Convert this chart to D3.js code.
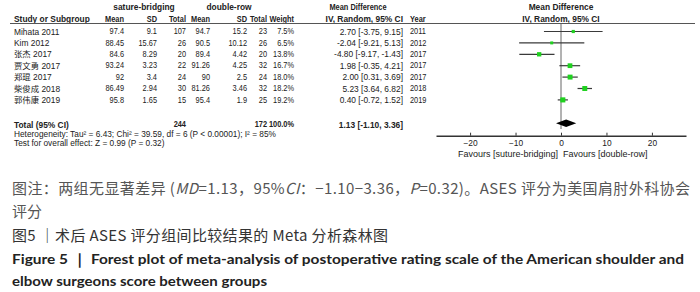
<!DOCTYPE html>
<html>
<head>
<meta charset="utf-8">
<script src="https://cdn.jsdelivr.net/npm/d3@7"></script>
<style>
  body { margin: 0; background: #fff; }
  svg { display: block; }
  .t { font-family: "Liberation Sans", Arial, "Noto Sans CJK SC", sans-serif; fill: #222; }
</style>
</head>
<body>
<svg id="chart" width="700" height="292"></svg>
<script>
// ---- data ----
const studies = ["Mihata 2011", "Kim 2012", "张杰 2017", "贾文勇 2017", "郑琨 2017", "柴俊成 2018", "郭伟康 2019"];
const sbMean = [97.4, 88.45, 84.6, 93.24, 92, 86.49, 95.8];
const sbSD   = [9.1, 15.67, 8.29, 3.23, 3.4, 2.94, 1.65];
const sbN    = [107, 26, 20, 22, 24, 30, 15];
const drMean = [94.7, 90.5, 89.4, 91.26, 90, 81.26, 95.4];
const drSD   = [15.2, 10.12, 4.42, 4.25, 2.5, 3.46, 1.9];
const drN    = [23, 26, 20, 32, 24, 32, 25];
const weights = [7.5, 6.5, 13.8, 16.7, 18.0, 18.2, 19.2];
const md     = [2.70, -2.04, -4.80, 1.98, 2.00, 5.23, 0.40];
const ciLow  = [-3.75, -9.21, -9.17, -0.35, 0.31, 3.64, -0.72];
const ciHigh = [9.15, 5.13, -1.43, 4.21, 3.69, 6.82, 1.52];
const years  = [2011, 2012, 2017, 2017, 2017, 2018, 2019];
const totalSbN = 244, totalDrN = 172, totalWeight = 100.0;
const totalMD = 1.13, totalLow = -1.10, totalHigh = 3.36;
const tickValues = [-20, -10, 0, 10, 20];
const heterogeneity = "Heterogeneity: Tau² = 6.43; Chi² = 39.59, df = 6 (P < 0.00001); I² = 85%";
const overallTest = "Test for overall effect: Z = 0.99 (P = 0.32)";
const favLeft = "Favours [suture-bridging]", favRight = "Favours [double-row]";

// ---- drawing ----
const svg = d3.select("#chart");
const fs = 8.4;     // table font size
const sx = 0.88;    // horizontal condensation of numeric columns

const y = d3.scalePoint().domain(d3.range(studies.length)).range([31.5, 99.9]);
const x = d3.scaleLinear().domain([-27.5, 27.5]).range([436, 686]);
const sq = d3.scaleSqrt().domain([0, 20]).range([0, 5.2]);

const tg = svg.append("g").attr("transform", `scale(${sx},1)`);

function txt(xp, yp, s, anchor, opts) {
  opts = opts || {};
  const cond = opts.cond ? sx : 1;
  const parent = opts.cond ? tg : svg;
  return parent.append("text").attr("class", "t")
    .attr("x", xp / cond).attr("y", yp)
    .attr("dominant-baseline", "central")
    .attr("text-anchor", anchor || "start")
    .attr("font-size", opts.size || fs)
    .attr("font-weight", opts.bold ? "bold" : "normal")
    .text(s);
}

// headers
txt(144, 7, "sature-bridging", "middle", {bold: true});
txt(229, 7, "double-row", "middle", {bold: true});
txt(358, 7, "Mean Difference", "middle", {bold: true, cond: true});
txt(561, 7, "Mean Difference", "middle", {bold: true});
txt(14, 19, "Study or Subgroup", "start", {bold: true});
txt(124, 19, "Mean", "end", {bold: true, cond: true});
txt(157, 19, "SD", "end", {bold: true, cond: true});
txt(186, 19, "Total", "end", {bold: true, cond: true});
txt(210, 19, "Mean", "end", {bold: true, cond: true});
txt(247, 19, "SD", "end", {bold: true, cond: true});
txt(267, 19, "Total", "end", {bold: true, cond: true});
txt(294, 19, "Weight", "end", {bold: true, cond: true});
txt(403, 19, "IV, Random, 95% CI", "end", {bold: true});
txt(410, 19, "Year", "start", {bold: true, cond: true});
txt(561, 19, "IV, Random, 95% CI", "middle", {bold: true});

svg.append("line").attr("x1", 10).attr("x2", 695).attr("y1", 23.5).attr("y2", 23.5)
  .attr("stroke", "#555").attr("stroke-width", 1);

// rows
const f2 = v => v.toFixed(2);
studies.forEach((s, i) => {
  const yy = y(i);
  txt(14, yy, s);
  txt(124, yy, String(sbMean[i]), "end", {cond: true});
  txt(157, yy, String(sbSD[i]), "end", {cond: true});
  txt(186, yy, String(sbN[i]), "end", {cond: true});
  txt(210, yy, String(drMean[i]), "end", {cond: true});
  txt(247, yy, String(drSD[i]), "end", {cond: true});
  txt(267, yy, String(drN[i]), "end", {cond: true});
  txt(294, yy, weights[i].toFixed(1) + "%", "end", {cond: true});
  txt(403, yy, `${f2(md[i])} [${f2(ciLow[i])}, ${f2(ciHigh[i])}]`, "end");
  txt(410, yy, String(years[i]), "start", {cond: true});
});

// totals
const yT = 124.5;
txt(14, yT, "Total (95% CI)", "start", {bold: true});
txt(186, yT, String(totalSbN), "end", {bold: true, cond: true});
txt(267, yT, String(totalDrN), "end", {bold: true, cond: true});
txt(294, yT, totalWeight.toFixed(1) + "%", "end", {bold: true, cond: true});
txt(403, yT, `${f2(totalMD)} [${f2(totalLow)}, ${f2(totalHigh)}]`, "end", {bold: true});
txt(14, 134, heterogeneity, "start", {size: 8.3});
txt(14, 142.5, overallTest, "start", {size: 8.3});

// zero line
svg.append("line").attr("x1", x(0)).attr("x2", x(0)).attr("y1", 23.5).attr("y2", 129)
  .attr("stroke", "#666").attr("stroke-width", 1);

// CI lines and squares
studies.forEach((s, i) => {
  const yy = y(i);
  svg.append("line").attr("x1", x(ciLow[i])).attr("x2", x(ciHigh[i]))
    .attr("y1", yy).attr("y2", yy).attr("stroke", "#3a3a3a").attr("stroke-width", 1.2);
  const h = sq(weights[i]);
  svg.append("rect").attr("x", x(md[i]) - h / 2).attr("y", yy - h / 2)
    .attr("width", h).attr("height", h).attr("fill", "#1fd11f");
});

// diamond
const yD = 123.3;
svg.append("path")
  .attr("d", `M${x(totalLow)},${yD} L${x(totalMD)},${yD - 3.8} L${x(totalHigh)},${yD} L${x(totalMD)},${yD + 3.8} Z`)
  .attr("fill", "#000");

// axis
const axis = d3.axisBottom(x).tickValues(tickValues).tickSizeInner(-3).tickSizeOuter(0).tickPadding(4);
const ag = svg.append("g").attr("transform", "translate(0,135.7)").call(axis);
ag.select(".domain").attr("stroke", "#333").attr("stroke-width", 1.5);
ag.selectAll(".tick line").attr("stroke", "#333");
ag.selectAll(".tick text").attr("class", "t").attr("font-size", 8.4)
  .attr("font-family", "Liberation Sans, Arial, sans-serif").attr("fill", "#222");

txt(x(0) - 3, 154, favLeft, "end", {size: 9});
txt(x(0) + 2, 154, favRight, "start", {size: 9});

// captions
const cjk = '"Noto Sans CJK SC", sans-serif';
const c1 = svg.append("text").attr("x", 12).attr("y", 187).attr("dominant-baseline", "central")
  .attr("font-family", cjk).attr("font-size", 15).attr("fill", "#555")
  .attr("textLength", 678).attr("lengthAdjust", "spacing");
c1.append("tspan").text("图注：两组无显著差异 (");
c1.append("tspan").attr("font-style", "italic").text("MD");
c1.append("tspan").text("=1.13，95%");
c1.append("tspan").attr("font-style", "italic").text("CI");
c1.append("tspan").text("：−1.10−3.36，");
c1.append("tspan").attr("font-style", "italic").text("P");
c1.append("tspan").text("=0.32)。ASES 评分为美国肩肘外科协会");

svg.append("text").attr("x", 12).attr("y", 210).attr("dominant-baseline", "central")
  .attr("font-family", cjk).attr("font-size", 15).attr("fill", "#555").text("评分");

svg.append("text").attr("x", 12).attr("y", 234).attr("dominant-baseline", "central")
  .attr("font-family", cjk).attr("font-size", 15).attr("fill", "#333")
  .attr("textLength", 376).attr("lengthAdjust", "spacing")
  .text("图5 ｜术后 ASES 评分组间比较结果的 Meta 分析森林图");

svg.append("text").attr("x", 12).attr("y", 258).attr("dominant-baseline", "central")
  .attr("font-family", "Lato, 'Open Sans', sans-serif").attr("font-weight", "bold")
  .attr("font-size", 14).attr("fill", "#222")
  .attr("textLength", 672).attr("lengthAdjust", "spacingAndGlyphs")
  .text("Figure 5 ｜ Forest plot of meta-analysis of postoperative rating scale of the American shoulder and");

svg.append("text").attr("x", 12).attr("y", 280).attr("dominant-baseline", "central")
  .attr("font-family", "Lato, 'Open Sans', sans-serif").attr("font-weight", "bold")
  .attr("font-size", 14).attr("fill", "#222")
  .attr("textLength", 255).attr("lengthAdjust", "spacingAndGlyphs")
  .text("elbow surgeons score between groups");
</script>
</body>
</html>
